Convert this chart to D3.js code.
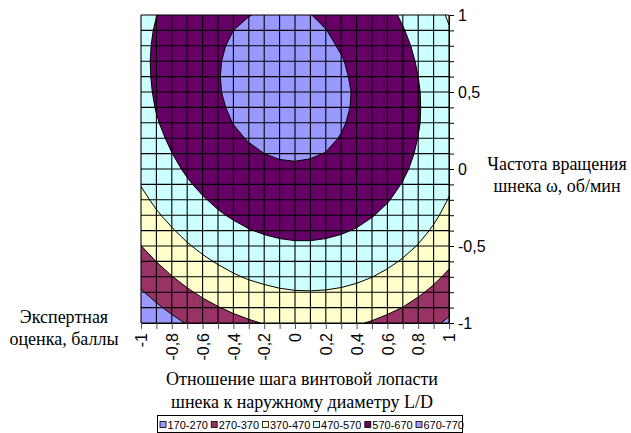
<!DOCTYPE html>
<html>
<head>
<meta charset="utf-8">
<script src="https://cdn.jsdelivr.net/npm/d3@7"></script>
<style>
  body { margin: 0; background: #fff; }
  svg { display: block; }
</style>
</head>
<body>
<svg id="chart" width="631" height="433"></svg>
<script>
// ---- categories (grid nodes) ----
const xCategories = [-1,-0.9,-0.8,-0.7,-0.6,-0.5,-0.4,-0.3,-0.2,-0.1,0,0.1,0.2,0.3,0.4,0.5,0.6,0.7,0.8,0.9,1];
const yCategories = [-1,-0.9,-0.8,-0.7,-0.6,-0.5,-0.4,-0.3,-0.2,-0.1,0,0.1,0.2,0.3,0.4,0.5,0.6,0.7,0.8,0.9,1];

// ---- tick labels ----
const xTickValues = [-1,-0.8,-0.6,-0.4,-0.2,0,0.2,0.4,0.6,0.8,1];
const xTickLabels = ["-1","-0,8","-0,6","-0,4","-0,2","0","0,2","0,4","0,6","0,8","1"];
const yTickValues = [-1,-0.5,0,0.5,1];
const yTickLabels = ["-1","-0,5","0","0,5","1"];

// ---- series: expert score, one row per ω value (bottom to top), columns = L/D values ----
const yM10 = [176,212,246,275,302,325,344,360,373,382,387,390,388,384,376,364,349,331,309,284,255];
const yM09 = [220,257,289,319,345,367,386,402,414,423,428,430,428,423,415,403,387,369,346,321,292];
const yM08 = [262,298,330,359,385,407,425,441,452,461,466,467,465,460,451,438,423,403,381,355,325];
const yM07 = [301,336,368,397,422,443,462,477,488,496,500,501,499,493,484,471,455,435,412,386,356];
const yM06 = [336,371,403,431,456,477,495,510,520,528,532,533,530,524,514,501,484,464,441,414,384];
const yM05 = [369,404,435,463,487,508,526,540,550,557,561,561,558,552,541,528,511,491,467,440,409];
const yM04 = [399,434,464,492,516,536,553,567,577,584,587,587,583,576,566,552,535,514,490,462,431];
const yM03 = [427,461,491,518,542,562,578,592,601,608,611,610,606,599,588,573,556,535,510,482,450];
const yM02 = [451,485,515,541,564,584,600,613,623,629,631,630,626,618,607,592,574,552,527,499,467];
const yM01 = [473,506,536,562,585,604,620,632,641,647,649,648,643,635,623,608,589,567,542,513,481];
const y00  = [492,525,554,580,602,621,636,649,657,662,664,662,657,649,636,621,602,580,554,525,492];
const y01  = [508,541,569,595,617,635,650,662,670,675,676,674,669,660,647,631,612,589,563,534,500];
const y02  = [522,554,582,607,629,647,662,673,681,685,686,684,678,668,656,639,620,596,569,540,506];
const y03  = [533,565,593,617,639,656,671,681,689,693,693,690,684,674,661,644,624,601,574,543,509];
const y04  = [542,573,601,625,646,663,677,687,694,698,698,695,688,678,664,647,627,603,575,544,510];
const y05  = [548,578,606,630,650,667,680,690,697,700,700,696,689,679,665,647,626,602,574,543,508];
const y06  = [551,581,608,632,652,668,681,691,697,700,699,695,688,677,662,645,623,599,570,539,504];
const y07  = [552,582,608,632,651,667,680,689,695,697,696,692,684,673,658,640,618,593,564,532,497];
const y08  = [551,580,606,629,648,664,676,685,690,692,691,686,678,666,651,632,610,585,556,523,487];
const y09  = [547,576,601,624,642,658,670,678,683,685,683,678,671,657,641,622,600,574,544,512,475];
const y10  = [540,569,594,616,635,650,661,669,674,675,674,671,660,645,629,610,587,561,531,498,461];
const rows = [yM10,yM09,yM08,yM07,yM06,yM05,yM04,yM03,yM02,yM01,y00,y01,y02,y03,y04,y05,y06,y07,y08,y09,y10];

// ---- bands ----
const thresholds = [170,270,370,470,570,670,770];
const bandLabels = ["170-270","270-370","370-470","470-570","570-670","670-770"];
const bandColors = ["#9999FF","#993366","#FFFFCC","#CCFFFF","#660066","#9999FF"];

// ---- layout ----
const plot = { left: 141, right: 449, top: 15, bottom: 323 };
const sans = "'Liberation Sans', Arial, sans-serif";
const serif = "'Liberation Serif', 'Times New Roman', serif";

const svg = d3.select("#chart");
const x = d3.scaleLinear().domain([xCategories[0], xCategories[xCategories.length - 1]]).range([plot.left, plot.right]);
const y = d3.scaleLinear().domain([yCategories[0], yCategories[yCategories.length - 1]]).range([plot.bottom, plot.top]);

const nx = xCategories.length, ny = yCategories.length;
// d3.contours places sample i at coordinate i + 0.5
const gx = d3.scaleLinear().domain([0.5, nx - 0.5]).range([x(xCategories[0]), x(xCategories[nx - 1])]);
const gy = d3.scaleLinear().domain([0.5, ny - 0.5]).range([y(yCategories[0]), y(yCategories[ny - 1])]);
const path = d3.geoPath(d3.geoTransform({
  point(px, py) { this.stream.point(gx(px), gy(py)); }
}));

svg.append("defs").append("clipPath").attr("id", "plotClip")
  .append("rect")
  .attr("x", plot.left).attr("y", plot.top)
  .attr("width", plot.right - plot.left).attr("height", plot.bottom - plot.top);

const bands = d3.contours().size([nx, ny]).thresholds(thresholds.slice(0, -1))(rows.flat());

const gPlot = svg.append("g").attr("clip-path", "url(#plotClip)");
gPlot.selectAll("path.band").data(bands).join("path")
  .attr("class", "band")
  .attr("d", path)
  .attr("fill", (d, i) => bandColors[i]);
gPlot.selectAll("path.edge").data(bands.slice(1)).join("path")
  .attr("class", "edge")
  .attr("d", path)
  .attr("fill", "none")
  .attr("stroke", "#000")
  .attr("stroke-width", 1);

// grid
const gGrid = svg.append("g");
gGrid.selectAll("line.v").data(xCategories).join("line")
  .attr("class", "v")
  .attr("x1", d => x(d)).attr("x2", d => x(d))
  .attr("y1", plot.top).attr("y2", plot.bottom)
  .attr("stroke", "#000").attr("stroke-width", 1.1);
gGrid.selectAll("line.h").data(yCategories).join("line")
  .attr("class", "h")
  .attr("y1", d => y(d)).attr("y2", d => y(d))
  .attr("x1", plot.left).attr("x2", plot.right)
  .attr("stroke", "#000").attr("stroke-width", 1.1);

// right axis
const yLabel = d => {
  const i = yTickValues.findIndex(v => Math.abs(v - d) < 1e-9);
  return i >= 0 ? yTickLabels[i] : "";
};
const gy2 = svg.append("g")
  .attr("transform", `translate(${plot.right},0)`)
  .call(d3.axisRight(y).tickValues(yCategories).tickSize(5).tickSizeOuter(0).tickPadding(4).tickFormat(yLabel));
gy2.select(".domain").attr("stroke", "#000");
gy2.selectAll(".tick line").attr("stroke", "#000");
gy2.selectAll(".tick text").attr("font-family", sans).attr("font-size", 16).attr("fill", "#000");

// bottom axis
const xLabel = d => {
  const i = xTickValues.findIndex(v => Math.abs(v - d) < 1e-9);
  return i >= 0 ? xTickLabels[i] : "";
};
const gx2 = svg.append("g")
  .attr("transform", `translate(0,${plot.bottom})`)
  .call(d3.axisBottom(x).tickValues(xCategories).tickSize(6).tickSizeOuter(0).tickFormat(xLabel));
gx2.select(".domain").attr("stroke", "#000");
gx2.selectAll(".tick line").attr("stroke", "#555");
gx2.selectAll(".tick text")
  .attr("font-family", sans).attr("font-size", 16).attr("fill", "#000")
  .attr("transform", "rotate(-90)")
  .attr("text-anchor", "end")
  .attr("x", -10).attr("y", 0).attr("dy", "0.35em");

// titles
function multiline(lines, cx, y0, lh) {
  const t = svg.append("text")
    .attr("font-family", serif).attr("font-size", 18).attr("fill", "#000")
    .attr("text-anchor", "middle");
  lines.forEach((s, i) => t.append("tspan").attr("x", cx).attr("y", y0 + i * lh).text(s));
}
multiline(["Частота вращения", "шнека ω, об/мин"], 557, 170, 22);
multiline(["Экспертная", "оценка, баллы"], 64, 323, 21.5);
multiline(["Отношение шага винтовой лопасти", "шнека к наружному диаметру L/D"], 302, 385, 23);

// legend
const lg = svg.append("g");
lg.append("rect").attr("x", 157.5).attr("y", 415.5).attr("width", 305).attr("height", 17)
  .attr("fill", "#fff").attr("stroke", "#000").attr("stroke-width", 1);
const items = lg.selectAll("g.item").data(bandLabels).join("g")
  .attr("class", "item")
  .attr("transform", (d, i) => `translate(${159.5 + i * 51.2},0)`);
items.append("rect").attr("x", 0.5).attr("y", 421.5).attr("width", 6).attr("height", 6)
  .attr("fill", (d, i) => bandColors[i]).attr("stroke", "#000").attr("stroke-width", 0.8);
items.append("text").attr("x", 8).attr("y", 428.5)
  .attr("font-family", sans).attr("font-size", 11).attr("fill", "#000")
  .text(d => d);
</script>
</body>
</html>
